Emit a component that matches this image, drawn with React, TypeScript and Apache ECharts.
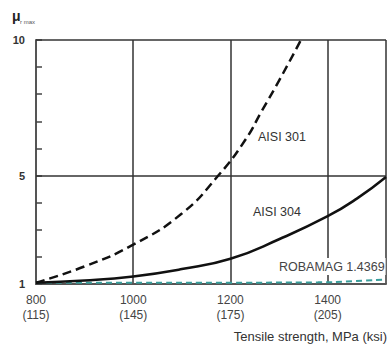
import React, { useEffect, useRef } from "react";
import * as echarts from "echarts";

const xTicks = [800, 1000, 1200, 1400];
const ksiLabels = ["115", "145", "175", "205"];
const yLabelValues = [1, 5, 10];
const hGridValues = [5, 10];

const x301 = [800, 900, 1000, 1100, 1175, 1230, 1265, 1300, 1345];
const y301 = [1.05, 1.65, 2.45, 3.6, 5.0, 6.3, 7.4, 8.5, 10];

const x304 = [800, 900, 1000, 1100, 1200, 1300, 1400, 1460, 1520];
const y304 = [1.05, 1.13, 1.28, 1.55, 1.93, 2.65, 3.5, 4.15, 4.95];

const xRob = [800, 1000, 1200, 1380, 1450, 1520];
const yRob = [1.05, 1.05, 1.05, 1.06, 1.1, 1.17];

const zip = (xs: number[], ys: number[]) => xs.map((x, i) => [x, ys[i]]);

export default function App() {
  const ref = useRef<HTMLDivElement>(null);
  useEffect(() => {
    if (!ref.current) return;
    const chart = echarts.init(ref.current, undefined, { renderer: "svg" });
    const font = "Liberation Sans";
    chart.setOption({
      animation: false,
      backgroundColor: "#fff",
      grid: { left: 36, top: 40, width: 352, height: 244 },
      xAxis: {
        type: "value",
        min: 800,
        max: 1520,
        interval: 200,
        axisLine: { show: true, lineStyle: { color: "#555", width: 2 } },
        axisTick: { show: false },
        splitLine: { show: true, lineStyle: { color: "#333", width: 1.5 } },
        axisLabel: {
          color: "#444",
          fontFamily: font,
          fontSize: 12,
          lineHeight: 15,
          margin: 8,
          formatter: (v: number) => {
            const i = xTicks.indexOf(v);
            return i >= 0 ? `${v}\n(${ksiLabels[i]})` : "";
          },
        },
      },
      yAxis: {
        type: "value",
        min: 1,
        max: 10,
        interval: 1,
        axisLine: { show: true, lineStyle: { color: "#555", width: 2 } },
        axisTick: { show: true, inside: true, length: 6, lineStyle: { color: "#444", width: 1.5 } },
        splitLine: { show: false },
        axisLabel: {
          color: "#333",
          fontFamily: font,
          fontSize: 11,
          fontWeight: "bold",
          margin: 11,
          formatter: (v: number) => (yLabelValues.includes(v) ? String(v) : ""),
        },
      },
      series: [
        {
          type: "line",
          name: "grid",
          data: [],
          silent: true,
          markLine: {
            symbol: "none",
            silent: true,
            label: { show: false },
            lineStyle: { color: "#333", width: 1.5, type: "solid" },
            data: hGridValues.map((v) => ({ yAxis: v })),
          },
        },
        {
          type: "line",
          name: "AISI 301",
          data: zip(x301, y301),
          smooth: true,
          showSymbol: false,
          lineStyle: { color: "#111", width: 2.5, type: [9, 5] },
          z: 5,
        },
        {
          type: "line",
          name: "AISI 304",
          data: zip(x304, y304),
          smooth: true,
          showSymbol: false,
          lineStyle: { color: "#111", width: 2.5 },
          z: 5,
        },
        {
          type: "line",
          name: "ROBAMAG 1.4369",
          data: zip(xRob, yRob),
          smooth: true,
          showSymbol: false,
          lineStyle: { color: "#3a9e9c", width: 2, type: [6, 4] },
          z: 4,
        },
      ],
      graphic: [
        {
          type: "text",
          x: 12,
          y: 9,
          z: 100,
          style: { text: "μ", fill: "#222", font: `bold 14px ${font}` },
        },
        {
          type: "text",
          x: 20,
          y: 19,
          z: 100,
          style: { text: "r max", fill: "#555", font: `6px ${font}` },
        },
        {
          type: "text",
          x: 258,
          y: 130,
          z: 100,
          style: { text: "AISI 301", fill: "#333", font: `12.5px ${font}` },
        },
        {
          type: "text",
          x: 253,
          y: 205,
          z: 100,
          style: { text: "AISI 304", fill: "#333", font: `12.5px ${font}` },
        },
        {
          type: "text",
          x: 278,
          y: 258,
          z: 100,
          style: {
            text: "ROBAMAG 1.4369",
            fill: "#444",
            font: `12.5px ${font}`,
            backgroundColor: "#fff",
            padding: [2, 1, 2, 1],
          },
        },
        {
          type: "text",
          x: 387,
          y: 330,
          z: 100,
          style: {
            text: "Tensile strength, MPa (ksi)",
            fill: "#333",
            font: `13px ${font}`,
            align: "right",
          },
        },
      ],
    });
    return () => chart.dispose();
  }, []);
  return (
    <div
      ref={ref}
      style={{ position: "fixed", left: 0, top: 0, width: 389, height: 345 }}
    />
  );
}
